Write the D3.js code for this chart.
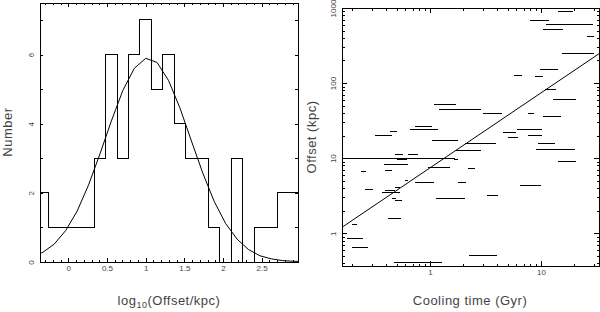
<!DOCTYPE html>
<html lang="en">
<head>
<meta charset="utf-8">
<title>Offset histogram and offset vs cooling time</title>
<script src="https://cdn.jsdelivr.net/npm/d3@7"></script>
<style>
  body { margin: 0; background: #fff; }
  .frame { fill: none; stroke: #000; stroke-width: 1; shape-rendering: crispEdges; }
  .tick line { stroke: #000; shape-rendering: crispEdges; }
  .tick text { fill: #444; }
  .title { font-family: "Liberation Sans", Arial, sans-serif; font-size: 13px; fill: #444; letter-spacing: 0.5px; }
</style>
</head>
<body>
<script>
// ---- left panel: histogram of log10(offset) ----
var histEdges = [-0.403, -0.255, -0.108, 0.040, 0.188, 0.336, 0.483, 0.631, 0.779, 0.926, 1.074, 1.222,
                 1.370, 1.517, 1.665, 1.813, 1.960, 2.108, 2.256, 2.404, 2.551, 2.699, 2.847, 2.994];
var histCounts = [2, 1, 1, 1, 1, 3, 6, 3, 6, 7, 5, 6, 4, 3, 3, 1, 0, 3, 0, 1, 1, 2, 2];
// gaussian fit, read at bin centres
var gaussX = [-0.477, -0.329, -0.181, -0.034, 0.114, 0.262, 0.410, 0.557, 0.705, 0.853, 1.001, 1.148,
              1.296, 1.444, 1.592, 1.739, 1.887, 2.035, 2.183, 2.330, 2.478, 2.626, 2.774, 2.921, 3.069];
var gaussY = [0.14, 0.28, 0.52, 0.91, 1.47, 2.23, 3.13, 4.08, 4.96, 5.60, 5.89, 5.77,
              5.25, 4.45, 3.50, 2.57, 1.75, 1.11, 0.66, 0.36, 0.18, 0.09, 0.04, 0.02, 0.01];
var histXLabels = [0, 0.5, 1, 1.5, 2, 2.5];
var histYLabels = [0, 2, 4, 6];

// ---- right panel: offset vs cooling time (Gyr) ----
var coolLo = [14.1, 7.96, 11.0, 10.5, 26.0, 15.5, 9.79, 5.71, 8.83, 10.9, 12.9, 1.09, 1.21, 3.02, 7.69,
              10.5, 0.725, 0.660, 6.04, 0.436, 4.57, 0.319, 7.69, 5.01, 1.04, 2.07, 9.34, 9.02, 1.73, 0.484,
              0.638, 0.10, 0.393, 0.501, 1.66, 14.3, 0.385, 0.965, 2.21, 0.393, 0.238, 0.595, 0.733, 1.80,
              6.47, 0.484, 0.260, 0.393, 0.366, 3.24, 1.14, 0.452, 0.484, 0.421, 0.198, 0.179, 0.198, 0.472, 2.25];
var coolHi = [19.5, 11.8, 29.6, 15.7, 30.0, 30.0, 14.1, 6.70, 10.4, 13.7, 20.7, 1.72, 2.88, 4.48, 8.70,
              15.0, 1.04, 1.17, 10.3, 0.499, 5.92, 0.455, 10.2, 6.14, 1.80, 3.93, 13.4, 20.2, 2.86, 0.575,
              0.780, 1.68, 0.436, 0.617, 1.80, 20.7, 0.634, 1.51, 2.54, 0.459, 0.263, 0.638, 1.09, 2.11,
              10.1, 0.537, 0.308, 0.484, 0.531, 4.10, 2.07, 0.494, 0.560, 0.548, 0.220, 0.251, 0.274, 1.28, 3.99];
var offsetKpc = [912, 692, 612, 525, 414, 248, 150, 128, 124, 83.2, 59.9, 52.5, 45.0, 39.8, 39.0,
                 35.9, 26.4, 24.4, 24.2, 22.9, 21.9, 20.3, 19.8, 19.1, 17.3, 15.8, 15.8, 13.2, 12.5, 11.3,
                 11.3, 10.0, 9.79, 9.49, 9.49, 8.93, 8.27, 7.59, 7.36, 6.83, 6.63, 4.98, 4.76, 4.73,
                 4.27, 4.11, 3.78, 3.66, 3.48, 3.14, 2.93, 2.87, 2.72, 1.585, 1.32, 0.858, 0.651, 0.411, 0.498];
var fitX = [0.161, 33.3];
var fitY = [1.20, 246];
var coolXLabels = [1, 10];
var offYLabels = [1, 10, 100, 1000];

var svg = d3.select("body").append("svg")
    .attr("width", 600)
    .attr("height", 312);

var tickFont = "Liberation Sans, Arial, sans-serif";

// small helper: draw ticks with an axis, drop the domain line
function ticks(g, axis) {
  g.call(axis);
  g.select(".domain").remove();
  g.attr("font-family", tickFont).attr("font-size", 8);
  return g;
}

// rotate y tick labels so they read upwards
function rotateLabels(g) {
  g.selectAll("text")
    .attr("transform", "rotate(-90)")
    .attr("x", 0)
    .attr("y", -6)
    .attr("dy", null)
    .attr("text-anchor", "middle");
}

//========== left panel ==========
var hx = d3.scaleLinear().domain([-0.366, 2.97]).range([40, 298]);
var hy = d3.scaleLinear().domain([0, 7.49]).range([262, 3]);

svg.append("clipPath").attr("id", "clipL")
  .append("rect").attr("x", 40).attr("y", 3).attr("width", 258).attr("height", 259);

var left = svg.append("g");

// minor + major x ticks, bottom and top
ticks(left.append("g").attr("transform", "translate(0,262)"),
  d3.axisBottom(hx).tickValues(hx.ticks(33)).tickSize(-2).tickFormat(""));
ticks(left.append("g").attr("transform", "translate(0,262)"),
  d3.axisBottom(hx).tickValues(histXLabels).tickSize(-4).tickPadding(3).tickFormat(d3.format("")));
ticks(left.append("g").attr("transform", "translate(0,3)"),
  d3.axisTop(hx).tickValues(hx.ticks(33)).tickSize(-2).tickFormat(""));
ticks(left.append("g").attr("transform", "translate(0,3)"),
  d3.axisTop(hx).tickValues(histXLabels).tickSize(-4).tickFormat(""));

// y ticks every 1, labels on even numbers
ticks(left.append("g").attr("transform", "translate(40,0)"),
  d3.axisLeft(hy).tickValues(hy.ticks(7)).tickSize(-3).tickFormat(""));
rotateLabels(ticks(left.append("g").attr("transform", "translate(40,0)"),
  d3.axisLeft(hy).tickValues(histYLabels).tickSize(-3).tickFormat(d3.format("d"))));
ticks(left.append("g").attr("transform", "translate(298,0)"),
  d3.axisRight(hy).tickValues(hy.ticks(7)).tickSize(-3).tickFormat(""));

// histogram as a step line
var stepPts = histCounts.map(function(c, i) { return [histEdges[i], c]; });
stepPts.push([histEdges[histEdges.length - 1], histCounts[histCounts.length - 1]]);

left.append("path")
  .datum(stepPts)
  .attr("clip-path", "url(#clipL)")
  .attr("fill", "none")
  .attr("stroke", "#000")
  .attr("stroke-width", 1)
  .attr("shape-rendering", "crispEdges")
  .attr("d", d3.line()
    .x(function(d) { return hx(d[0]); })
    .y(function(d) { return hy(d[1]); })
    .curve(d3.curveStepAfter));

// gaussian curve
left.append("path")
  .datum(d3.zip(gaussX, gaussY))
  .attr("clip-path", "url(#clipL)")
  .attr("fill", "none")
  .attr("stroke", "#000")
  .attr("stroke-width", 1)
  .attr("d", d3.line()
    .x(function(d) { return hx(d[0]); })
    .y(function(d) { return hy(d[1]); }));

left.append("rect").attr("class", "frame")
  .attr("x", 40).attr("y", 3).attr("width", 258).attr("height", 259);

// axis titles
var xt = left.append("text").attr("class", "title")
  .attr("x", 169).attr("y", 305).attr("text-anchor", "middle");
xt.append("tspan").text("log");
xt.append("tspan").attr("font-size", 9).attr("dy", 3).text("10");
xt.append("tspan").attr("dy", -3).text("(Offset/kpc)");

left.append("text").attr("class", "title")
  .attr("transform", "translate(12,132) rotate(-90)")
  .attr("text-anchor", "middle")
  .text("Number");

//========== right panel ==========
var cx = d3.scaleLog().domain([0.161, 33.3]).range([342, 599]);
var cy = d3.scaleLog().domain([0.366, 1000]).range([266, 8]);

svg.append("clipPath").attr("id", "clipR")
  .append("rect").attr("x", 342).attr("y", 8).attr("width", 257).attr("height", 258);

var right = svg.append("g");

ticks(right.append("g").attr("transform", "translate(0,266)"),
  d3.axisBottom(cx).tickValues(cx.ticks()).tickSize(-2.5).tickFormat(""));
ticks(right.append("g").attr("transform", "translate(0,266)"),
  d3.axisBottom(cx).tickValues(coolXLabels).tickSize(-5).tickPadding(3).tickFormat(d3.format("d")));
ticks(right.append("g").attr("transform", "translate(0,8)"),
  d3.axisTop(cx).tickValues(cx.ticks()).tickSize(-2.5).tickFormat(""));
ticks(right.append("g").attr("transform", "translate(0,8)"),
  d3.axisTop(cx).tickValues(coolXLabels).tickSize(-5).tickFormat(""));

ticks(right.append("g").attr("transform", "translate(342,0)"),
  d3.axisLeft(cy).tickValues(cy.ticks()).tickSize(-2.5).tickFormat(""));
rotateLabels(ticks(right.append("g").attr("transform", "translate(342,0)"),
  d3.axisLeft(cy).tickValues(offYLabels).tickSize(-5).tickFormat(d3.format("d"))));
ticks(right.append("g").attr("transform", "translate(599,0)"),
  d3.axisRight(cy).tickValues(cy.ticks()).tickSize(-2.5).tickFormat(""));
ticks(right.append("g").attr("transform", "translate(599,0)"),
  d3.axisRight(cy).tickValues(offYLabels).tickSize(-5).tickFormat(""));

// cooling time ranges as horizontal bars
right.append("g")
  .attr("clip-path", "url(#clipR)")
  .selectAll("line")
  .data(offsetKpc)
  .enter()
  .append("line")
  .attr("x1", function(d, i) { return cx(coolLo[i]); })
  .attr("x2", function(d, i) { return cx(coolHi[i]); })
  .attr("y1", function(d) { return cy(d); })
  .attr("y2", function(d) { return cy(d); })
  .attr("stroke", "#000")
  .attr("stroke-width", 1)
  .attr("shape-rendering", "crispEdges");

// fitted relation
right.append("path")
  .datum(d3.zip(fitX, fitY))
  .attr("clip-path", "url(#clipR)")
  .attr("fill", "none")
  .attr("stroke", "#000")
  .attr("stroke-width", 1)
  .attr("d", d3.line()
    .x(function(d) { return cx(d[0]); })
    .y(function(d) { return cy(d[1]); }));

right.append("rect").attr("class", "frame")
  .attr("x", 342).attr("y", 8).attr("width", 257).attr("height", 258);

right.append("text").attr("class", "title")
  .attr("x", 470).attr("y", 305).attr("text-anchor", "middle")
  .text("Cooling time (Gyr)");

right.append("text").attr("class", "title")
  .attr("transform", "translate(316,137) rotate(-90)")
  .attr("text-anchor", "middle")
  .text("Offset (kpc)");
</script>
</body>
</html>
